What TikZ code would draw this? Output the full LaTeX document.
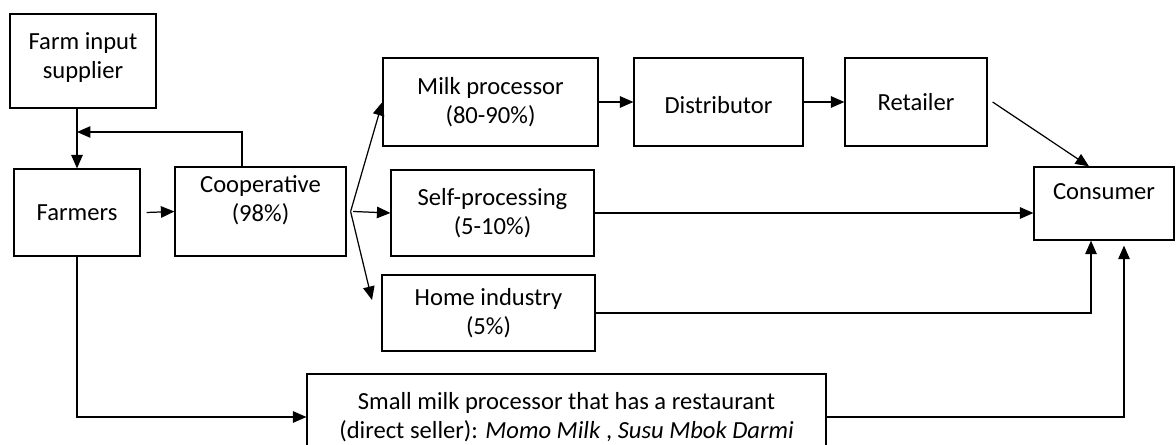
\documentclass[tikz,border=0pt]{standalone}
\usepackage{fontspec}
\setmainfont{Carlito}
\usetikzlibrary{arrows.meta,positioning}

\begin{document}
\begin{tikzpicture}[
    x=0.02cm,
    y=-0.02cm,
    font=\fontsize{14}{16.5}\selectfont,
    box/.style={
        draw,
        line width=0.7pt,
        inner sep=0pt,
        align=center
    },
    flow/.style={
        -{Triangle[length=0.27cm,width=0.23cm]},
        line width=0.7pt
    }
]

\clip (0,0) rectangle (1176,445);

% Nodes
\node[box, minimum width=2.92cm, minimum height=1.88cm] (supplier) at (83,61) {Farm input\\supplier\\[-10pt]};
\node[box, minimum width=2.52cm, minimum height=1.74cm] (farmers) at (77,212.5) {Farmers};
\node[box, minimum width=3.42cm, minimum height=1.78cm] (coop) at (260.5,211.5) {\fontsize{14}{12.5}\selectfont Cooperative\\(98\%)\\[-2pt] \mbox{}};
\node[box, minimum width=4.3cm, minimum height=1.76cm] (milk) at (490.5,102) {Milk processor\\(80-90\%)};
\node[box, minimum width=3.38cm, minimum height=1.76cm, text height=17pt, text depth=4pt] (dist) at (718.5,102) {Distributor};
\node[box, minimum width=2.84cm, minimum height=1.76cm] (retail) at (916,102) {Retailer};
\node[box, minimum width=2.8cm, minimum height=1.46cm] (cons) at (1104,203.5) {Consumer\\[-3pt] \mbox{}};
\node[box, minimum width=4.06cm, minimum height=1.72cm] (self) at (492.5,213) {Self-processing\\(5-10\%)};
\node[box, minimum width=4.26cm, minimum height=1.52cm] (home) at (488.5,313) {Home industry\\(5\%)};
\node[box, minimum width=10.38cm, minimum height=1.72cm] (small) at (566.5,417) {Small milk processor that has a restaurant\\(direct seller): \textit{Momo Milk} , \textit{Susu Mbok Darmi}};

\coordinate (join) at (77,132);
\coordinate (fork) at ([xshift=0.08cm]coop.east);
\coordinate (homein) at (372,300);

% Flows
\draw[flow] (supplier.south -| farmers.north) -- (farmers.north);
\draw[flow] ([xshift=-0.37cm]coop.north) |- (join);
\draw[flow] ([xshift=0.12cm]farmers.east) -- (coop.west);

\draw[flow] (fork) -- (milk.west);
\draw[flow] ([xshift=0.05cm]fork) -- (self.west);
\draw[flow] (fork) -- (homein);

\draw[flow] (milk.east) -- (dist.west);
\draw[flow] (dist.east) -- (retail.west);
\draw[flow] ([xshift=0.1cm]retail.east) -- ([xshift=-0.3cm]cons.north);
\draw[flow] (self.east) -- (self.east -| cons.west);
\draw[flow] (home.east) -| ([xshift=-0.26cm]cons.south);

\draw[flow] (farmers.south) |- (small.west);
\draw[flow] (small.east) -| ([xshift=0.4cm,yshift=-0.1cm]cons.south);

\end{tikzpicture}
\end{document}
